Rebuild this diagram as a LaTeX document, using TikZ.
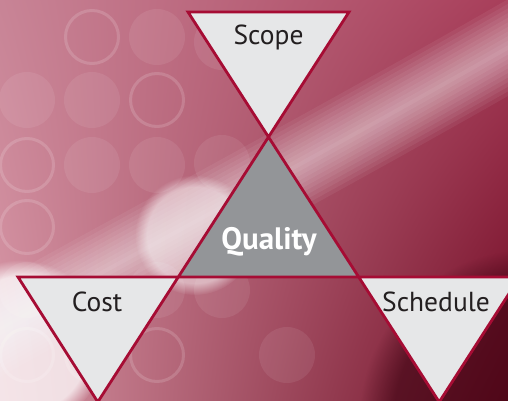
\documentclass[tikz,border=0pt]{standalone}
\usepackage{fontspec}
\setsansfont{PT Sans}
\usetikzlibrary{fadings,shadings}

\definecolor{rim}{RGB}{166,12,52}
\definecolor{paper}{RGB}{230,231,232}
\definecolor{stone}{RGB}{147,149,152}
\definecolor{ink}{RGB}{35,31,32}
\definecolor{bgul}{RGB}{200,132,150}
\definecolor{bgur}{RGB}{168,62,90}
\definecolor{bgll}{RGB}{215,150,165}
\definecolor{bglr}{RGB}{110,10,34}
\definecolor{shadow}{RGB}{60,4,18}

\begin{document}
\begin{tikzpicture}[x=1pt,y=-1pt,
	outer/.style={fill=paper,draw=rim,line width=2.8pt},
	inner/.style={fill=stone,draw=rim,line width=2.8pt},
	lbl/.style={font=\sffamily\fontsize{27.5}{32}\selectfont,text=ink,anchor=base},
	disc/.style={fill=white,fill opacity=0.08},
	ring/.style={draw=white,draw opacity=0.15,line width=3pt},
	glow/.style={path fading=circle with fuzzy edge 20 percent}]
	\useasboundingbox (0,0) rectangle (508,401);
	\begin{scope}
	\clip (0,0) rectangle (508,401);
	% background
	\shade[upper left=bgul,upper right=bgur,lower left=bgll,lower right=bglr] (0,0) rectangle (508,401);
	\fill[glow,shadow,fill opacity=0.6] (530,420) circle (170);
	\foreach \x/\y in {157/37,27/100,92/100,92/165,157/165,222/42,222/163,222/290,157/290,27/290,287/355}
		\fill[disc] (\x,\y) circle (28);
	\foreach \x/\y in {92/37,157/100,27/165,27/227,92/355,157/355,27/355}
		\draw[ring] (\x,\y) circle (26.5);
	\fill[glow,white,fill opacity=0.75] (20,345) circle (85);
	\fill[glow,white,fill opacity=0.5] (195,235) circle (60);
	\foreach \w in {84,76,...,4}
		\draw[white,opacity=0.06,line width=\w pt,line cap=round] (-20,340) .. controls (150,245) and (330,150) .. (530,35);
	% triangles
	\coordinate (s1) at (188,12);
	\coordinate (s2) at (349,12);
	\coordinate (q) at (268.5,137);
	\coordinate (q1) at (178.3,277);
	\coordinate (q2) at (358.7,277);
	\coordinate (c1) at (18,277);
	\coordinate (c3) at (97.8,402);
	\coordinate (h2) at (519.7,277);
	\coordinate (h3) at (439.2,402);
	\filldraw[outer] (s1) -- (s2) -- (q) -- cycle;
	\filldraw[outer] (c1) -- (q1) -- (c3) -- cycle;
	\filldraw[outer] (q2) -- (h2) -- (h3) -- cycle;
	\filldraw[inner] (q) -- (q2) -- (q1) -- cycle;
	\end{scope}
	\node[lbl] (scope) at (268.5,45) {Scope};
	\node[lbl,font=\sffamily\bfseries\fontsize{31}{36}\selectfont,text=white] (quality) at (269,249) {Quality};
	\node[lbl] (cost) at (97,311) {Cost};
	\node[lbl] (sched) at (436,311) {Schedule};
\end{tikzpicture}
\end{document}
